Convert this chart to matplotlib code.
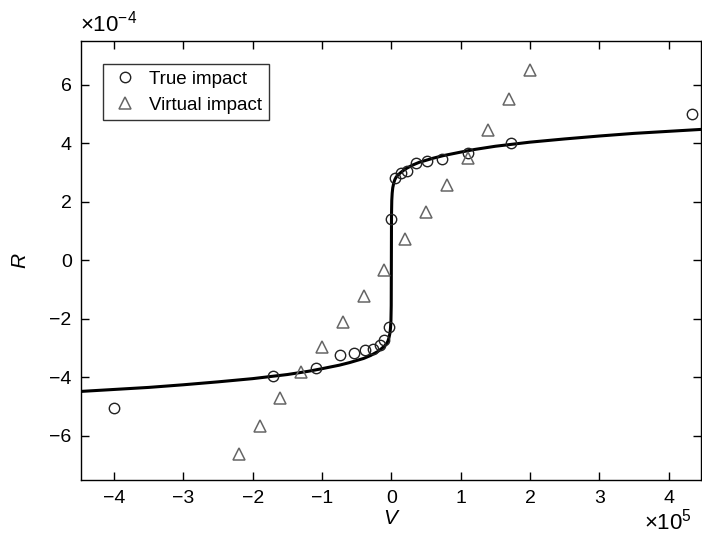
import matplotlib.pyplot as plt
import numpy as np

plt.rcParams['font.family'] = ['Liberation Sans', 'DejaVu Sans']
plt.rcParams['mathtext.fontset'] = 'custom'
plt.rcParams['mathtext.rm'] = 'Liberation Sans'
plt.rcParams['mathtext.it'] = 'Liberation Sans:italic'

# V in units of 1e5, R in units of 1e-4
true_v = [-4.0, -1.70, -1.09, -0.74, -0.54, -0.38, -0.27, -0.17, -0.10, -0.03,
          0.0, 0.05, 0.14, 0.23, 0.35, 0.51, 0.73, 1.10, 1.73, 4.34]
true_r = [-5.03, -3.95, -3.66, -3.23, -3.16, -3.07, -3.02, -2.89, -2.72, -2.26,
          1.41, 2.80, 2.98, 3.07, 3.32, 3.39, 3.48, 3.67, 4.00, 5.01]

virt_v = [-2.2, -1.9, -1.6, -1.3, -1.0, -0.7, -0.4, -0.1,
          0.2, 0.5, 0.8, 1.1, 1.4, 1.7, 2.0]
virt_r = [-6.62, -5.66, -4.70, -3.80, -2.95, -2.09, -1.20, -0.32,
          0.72, 1.66, 2.57, 3.49, 4.46, 5.51, 6.51]

# model curve
curve_v = [-4.5, -3.5, -3.0, -2.5, -2.0, -1.5, -1.2, -1.0, -0.75, -0.6, -0.5, -0.4,
           -0.3, -0.2, -0.15, -0.1, -0.07, -0.05, -0.035, -0.02, -0.012, -0.006,
           -0.002, 0.0, 0.002, 0.006, 0.012, 0.02, 0.035, 0.05, 0.07, 0.1, 0.15,
           0.2, 0.3, 0.4, 0.5, 0.6, 0.75, 1.0, 1.2, 1.5, 2.0, 2.5, 3.0, 3.5, 4.5]
curve_r = [-4.48, -4.34, -4.25, -4.15, -4.04, -3.90, -3.79, -3.70, -3.58, -3.49, -3.42, -3.35,
           -3.25, -3.12, -3.03, -2.93, -2.85, -2.76, -2.65, -2.48, -2.30, -2.05,
           -1.55, 0.0, 1.55, 2.05, 2.30, 2.48, 2.65, 2.76, 2.85, 2.93, 3.03,
           3.12, 3.25, 3.35, 3.42, 3.49, 3.58, 3.70, 3.79, 3.90, 4.04, 4.15, 4.25, 4.34, 4.48]

fig = plt.figure(figsize=(7.02, 5.38), dpi=100)
ax = fig.add_axes([0.116, 0.108, 0.883, 0.816])

ax.plot(curve_v, curve_r, color='black', lw=2.2, zorder=2)
ax.plot(true_v, true_r, 'o', ls='none', ms=7.5, mfc='none', mec='#222222', mew=1.0,
        label='True impact', zorder=3)
ax.plot(virt_v, virt_r, '^', ls='none', ms=8.5, mfc='none', mec='#666666', mew=1.1,
        label='Virtual impact', zorder=3)

ax.set_xlim(-4.47, 4.47)
ax.set_ylim(-7.5, 7.5)
ax.set_xticks(np.arange(-4, 5, 1))
ax.set_yticks(np.arange(-6, 7, 2))
ax.tick_params(direction='in', top=True, right=True, length=6, width=1,
               labelsize=14, pad=7)
for s in ax.spines.values():
    s.set_linewidth(1.0)

ax.set_xlabel('$V$', fontsize=15, labelpad=2)
ax.set_ylabel('$R$', fontsize=15, labelpad=14)

ax.text(-0.003, 1.01, r'$\times10^{-4}$', transform=ax.transAxes, fontsize=16,
        ha='left', va='bottom')
ax.text(0.985, -0.065, r'$\times10^{5}$', transform=ax.transAxes, fontsize=16,
        ha='right', va='top')

leg = ax.legend(loc='upper left', bbox_to_anchor=(0.02, 0.968), fontsize=13.5,
                frameon=True, fancybox=False, edgecolor='black',
                handletextpad=0.5, borderpad=0.35, labelspacing=0.45, handlelength=1.6)
leg.get_frame().set_linewidth(1.0)

fig.savefig('out.png', dpi=100)
